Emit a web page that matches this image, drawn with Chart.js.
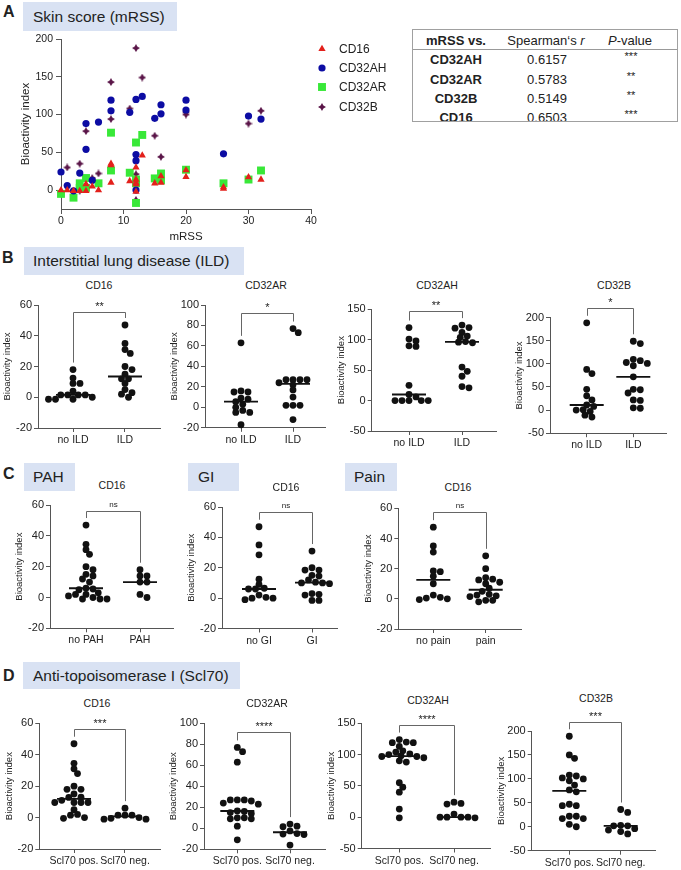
<!DOCTYPE html>
<html>
<head>
<meta charset="utf-8">
<script src="https://cdn.jsdelivr.net/npm/chart.js@4.4.1/dist/chart.umd.min.js"></script>
<style>
  body { margin: 0; background: #fff; font-family: "Liberation Sans", Arial, Helvetica, sans-serif; color: #222; }
  #fig { position: relative; width: 681px; height: 870px; overflow: hidden; }
  .hdr { position: absolute; background: #d9e2f3; font-size: 15.5px; display: flex; align-items: center; box-sizing: border-box; white-space: nowrap; }
  .letter { position: absolute; font-weight: bold; font-size: 16px; line-height: 16px; }
  .txt { position: absolute; transform: translate(-50%, -50%); white-space: nowrap; line-height: 1; color: #222; }
  #tbl { position: absolute; left: 412px; top: 29px; width: 266px; height: 93px; border: 1px solid #a0a0a0; box-sizing: border-box; overflow: hidden; }
</style>
</head>
<body>
<div id="fig">
  <div class="letter" style="left:3px;top:4px">A</div>
  <div class="hdr" style="left:23px;top:2px;width:154px;height:29px;padding-left:10px">Skin score (mRSS)</div>
  <div class="letter" style="left:2px;top:250px">B</div>
  <div class="hdr" style="left:24px;top:247px;width:220px;height:28px;padding-left:9px">Interstitial lung disease (ILD)</div>
  <div class="letter" style="left:3px;top:466px">C</div>
  <div class="hdr" style="left:24px;top:463px;width:51px;height:28px;padding-left:9px">PAH</div>
  <div class="hdr" style="left:188px;top:463px;width:51px;height:28px;padding-left:10px">GI</div>
  <div class="hdr" style="left:345px;top:463px;width:52px;height:28px;padding-left:9px">Pain</div>
  <div class="letter" style="left:3px;top:668px">D</div>
  <div class="hdr" style="left:23px;top:662px;width:217px;height:27px;padding-left:10px">Anti-topoisomerase I (Scl70)</div>
  <div id="tbl"></div>
</div>
<script>
Chart.defaults.font.family = '"Liberation Sans", Arial, Helvetica, sans-serif';
Chart.defaults.color = '#222';

// ---- panel A: mRSS vs bioactivity, [mRSS, index] ----
const mrssCD16 = [[0,0],[1,0],[2,-1],[3,-1],[4,-1],[4,8],[5,5],[6,0],[8,33],[8,35],[8,10],[11,12],[12,30],[12,14],[12,10],[12,8],[12,-2],[13,46],[15,9],[16,18.5],[16,10],[20,26.5],[20,17.5],[26,2],[26,4],[30,17],[32,14]];
const mrssCD32AH = [[0,24],[1,6],[2,-1],[3,22.5],[4,88],[4,54],[5,13],[6,90],[8,119],[8,105],[11,103],[12,120],[12,47],[12,39],[12,0],[13,124],[15,95],[16,113],[16,101],[20,119],[20,106],[26,48],[30,98],[32,94]];
const mrssCD32AR = [[0,-5],[2,-10],[3,9],[3,3],[4,16],[4,3],[6,9],[8,76],[8,26],[11,23],[12,63],[12,14],[12,9],[12,-17],[13,73],[15,15.5],[16,22],[16,13],[20,27],[26,9],[30,14],[32,26]];
const mrssCD32B = [[1,30],[3,35],[3,-1],[4,78],[5,16],[6,22],[8,143],[8,94],[11,108],[12,188],[12,21],[12,-13],[13,149],[15,72],[16,44],[20,100],[20,103],[30,88],[32,105]];
const mrssYTicks = [0, 50, 100, 150, 200];

// table
const corrRows = ['CD32AH', 'CD32AR', 'CD32B', 'CD16'];
const corrR = ['0.6157', '0.5783', '0.5149', '0.6503'];
const corrP = ['***', '**', '**', '***'];

// ---- group labels ----
const ildLabels = ['no ILD', 'ILD'];
const pahLabels = ['no PAH', 'PAH'];
const giLabels = ['no GI', 'GI'];
const painLabels = ['no pain', 'pain'];
const sclLabels = ['Scl70 pos.', 'Scl70 neg.'];

// ---- panel B: ILD ----
const ildCD16No = [18, 12.5, 9, 9, 4, 1.5, 1.5, 1.5, 1.5, 0, -1.3, -1.3, -1.3];
const ildCD16Yes = [47, 35, 31, 28.5, 20, 18, 15, 12, 12, 9, 5, 3, 2, 0];
const ildCD32ARNo = [63, 16, 15, 15, 9, 8, 5.5, 3, 0, -3, -5, -5, -17];
const ildCD32ARYes = [77, 73, 27, 27, 27, 27, 24, 22, 17, 10, 2, 2, 2, -12];
const ildCD32AHNo = [120, 101, 98, 90, 89, 25, 10, 6, 0, 0, 0, 0, 0];
const ildCD32AHYes = [124, 120, 119, 112, 106, 104, 97, 96, 95, 55, 48, 40, 23, 21];
const ildCD32BNo = [189, 88, 79, 45, 31, 22, 11, 8, 1, 0, -3, -11, -15];
const ildCD32BYes = [149, 144, 110, 107, 103, 101, 96, 72, 45, 44, 37, 22, 21, 5, 4];

// ---- panel C: CD16 by PAH / GI / pain ----
const pahNo = [47, 34.5, 31, 28, 20, 18, 15, 14, 12, 10, 6, 5.5, 5, 3, 2, 2, 1, 0, -1, -1, -1];
const pahYes = [18, 14, 14, 10, 10, 2, 0];
const giNo = [47, 35, 28.5, 12.5, 9, 6.5, 6, 6, 2, 0.5, 0, 0, -1];
const giYes = [31, 20, 18.5, 18.5, 15, 14.5, 12, 10.5, 10, 10, 9.5, 3, 2.5, 2, -1.5, -1.5];
const painNo = [47.5, 35, 31, 18.5, 18, 15, 10, 2.5, 1, 0.5, 0, -0.5];
const painYes = [28.5, 20, 14, 13, 12.5, 11, 10, 7, 5, 3, 2.5, 2, 1.5, -1, -1, -2];

// ---- panel D: Scl70 ----
const sclCD16Pos = [47, 34.5, 31, 28, 20, 18, 18, 15, 13, 12.8, 11, 9.6, 9.6, 9.6, 9.6, 5, 2, 1.5, 0, -0.5];
const sclCD16Neg = [6, 1.5, 1.5, 1.5, 0, -0.5, -1, -1];
const sclCD32ARPos = [77, 73, 63, 27, 27, 27, 26, 24, 23, 16.5, 16, 15, 14, 10, 10, 9, 9, 2, -11];
const sclCD32ARNeg = [4, 2, 1.5, -2.5, -5, -5.5, -6, -16];
const sclCD32AHPos = [124, 120, 119, 119, 113, 106, 104, 101, 100, 98, 97, 97, 95, 90, 88, 55, 48, 40, 13, -1];
const sclCD32AHNeg = [24, 22, 21, 5, 0, 0, 0, 0, -1];
const sclCD32BPos = [189, 150, 143, 108, 106, 102, 100, 96, 87, 77, 73, 47, 44, 44, 22, 22, 17, 17, 5, 0];
const sclCD32BNeg = [36, 30, 3, 2, 2, -4, -7, -10, -15];

const fig = document.getElementById('fig');

function text(str, x, y, css) {
  const d = document.createElement('div');
  d.className = 'txt';
  d.style.cssText = `left:${x}px;top:${y}px;${css || ''}`;
  d.innerHTML = str;
  fig.appendChild(d);
}

function makeCanvas(left, top, w, h) {
  const c = document.createElement('canvas');
  c.width = w; c.height = h;
  c.style.cssText = `position:absolute;left:${left}px;top:${top}px;width:${w}px;height:${h}px`;
  fig.appendChild(c);
  return c;
}

function median(vals) {
  const s = [...vals].sort((a, b) => a - b);
  const m = Math.floor(s.length / 2);
  return s.length % 2 ? s[m] : (s[m - 1] + s[m]) / 2;
}

// beeswarm: each point goes to the free slot nearest the group centre;
// neighbours need a full dot width sideways but may stack closer vertically
function swarm(vals, center, pxY, pxX) {
  const rx = 7, ry = 5, slotStep = 1.75;
  const placed = [];
  const slots = [0];
  for (let k = 1; k <= 30; k++) slots.push(k * slotStep, -k * slotStep);
  [...vals].sort((a, b) => b - a).forEach(v => {
    const py = v * pxY;
    const dx = slots.find(s => placed.every(p => ((p.dx - s) / rx) ** 2 + ((p.py - py) / ry) ** 2 >= 1));
    placed.push({ dx: dx === undefined ? 0 : dx, py, v });
  });
  return placed.map(p => ({ x: center + p.dx / pxX, y: p.v }));
}

function starMarker(color, size) {
  const c = document.createElement('canvas');
  c.width = c.height = size;
  const g = c.getContext('2d'), m = size / 2;
  g.fillStyle = color;
  g.beginPath();
  for (let k = 0; k < 8; k++) {
    const a = -Math.PI / 2 + k * Math.PI / 4, r = k % 2 ? m * 0.5 : m;
    g.lineTo(m + r * Math.cos(a), m + r * Math.sin(a));
  }
  g.closePath(); g.fill();
  return c;
}

// ---------- panel A scatter ----------
const seriesA = [
  { label: 'CD16', pts: mrssCD16, color: '#e3201b', style: 'triangle', r: 4.2 },
  { label: 'CD32AH', pts: mrssCD32AH, color: '#0c0ca3', style: 'circle', r: 3.6 },
  { label: 'CD32AR', pts: mrssCD32AR, color: '#38e838', style: 'rect', r: 5.6 },
  { label: 'CD32B', pts: mrssCD32B, color: '#5a1548', style: starMarker('#5a1548', 8), r: 4 }
];
const legendYs = [29, 48, 67, 87];

const legendA = {
  id: 'legendA',
  afterDraw(chart) {
    const ctx = chart.ctx;
    ctx.save();
    chart.data.datasets.forEach((ds, i) => {
      ctx.fillStyle = ds.backgroundColor;
      Chart.helpers.drawPoint(ctx, { pointStyle: ds.pointStyle, radius: ds.pointRadius, borderWidth: 0, rotation: 0 }, 322, legendYs[i]);
      ctx.fillStyle = '#222';
      ctx.font = '12px "Liberation Sans", Arial, sans-serif';
      ctx.textBaseline = 'middle';
      ctx.fillText(ds.label, 339, legendYs[i] + 0.5);
    });
    ctx.restore();
  }
};

new Chart(makeCanvas(0, 20, 400, 230), {
  type: 'scatter',
  data: {
    datasets: seriesA.map(s => ({
      label: s.label,
      data: s.pts.map(([x, y]) => ({ x, y })),
      pointStyle: s.style, pointRadius: s.r, backgroundColor: s.color, borderColor: s.color,
      borderWidth: 0, clip: false
    }))
  },
  options: {
    responsive: false, animation: false, events: [],
    layout: { padding: { left: 19, top: 19, right: 89, bottom: 6.5 } },
    plugins: { legend: { display: false }, tooltip: { enabled: false } },
    scales: {
      x: {
        type: 'linear', min: 0, max: 40,
        ticks: { stepSize: 10, font: { size: 10.5 }, padding: 1 },
        border: { color: '#555' },
        grid: { drawOnChartArea: false, tickLength: 5, color: '#555' },
        title: { display: true, text: 'mRSS', font: { size: 11.5 }, padding: 0 },
        afterFit: s => { s.height = 34.5; }
      },
      y: {
        min: -25, max: 200,
        afterBuildTicks: s => { s.ticks = mrssYTicks.map(v => ({ value: v })); },
        ticks: { font: { size: 10.5 }, padding: 3 },
        border: { color: '#555' },
        grid: { drawOnChartArea: false, tickLength: 5, color: '#555' },
        title: { display: true, text: 'Bioactivity index', font: { size: 11.5 }, padding: 0 },
        afterFit: s => { s.width = 42; }
      }
    }
  },
  plugins: [legendA]
});

// ---------- table ----------
const tbl = document.getElementById('tbl');
tbl.innerHTML = '<div style="position:absolute;left:0;right:0;top:19px;border-top:1px solid #999"></div>';
function cell(str, x, y, css) {
  const d = document.createElement('div');
  d.className = 'txt';
  d.style.cssText = `left:${x}px;top:${y}px;font-size:13px;${css || ''}`;
  d.innerHTML = str;
  tbl.appendChild(d);
}
const rowYs = [28.5, 49, 67.5, 86.5];
cell('mRSS vs.', 43, 10, 'font-weight:bold');
cell('Spearman‘s <i>r</i>', 133, 10);
cell('<i>P</i>-value', 217, 10);
corrRows.forEach((name, i) => {
  cell(name, 43, rowYs[i], 'font-weight:bold');
  cell(corrR[i], 134, rowYs[i]);
  cell(corrP[i], 218, rowYs[i] - 3, 'font-size:11px');
});

// ---------- dot plots B, C, D ----------
const dotExtras = {
  id: 'dotExtras',
  afterDatasetsDraw(chart, _args, o) {
    const { ctx, scales: { x, y } } = chart;
    ctx.save();
    ctx.strokeStyle = '#111';
    ctx.lineWidth = 1.8;
    o.groups.forEach((vals, i) => {
      const py = y.getPixelForValue(median(vals)), px = x.getPixelForValue(i + 1);
      ctx.beginPath(); ctx.moveTo(px - 17, py); ctx.lineTo(px + 17, py); ctx.stroke();
    });
    const by = Math.round(y.getPixelForValue(o.bracket)) + 0.5;
    const xl = Math.round(x.getPixelForValue(1)) + 0.5, xr = Math.round(x.getPixelForValue(2)) + 0.5;
    const ll = y.getPixelForValue(Math.max(...o.groups[0])) - 7;
    const lr = y.getPixelForValue(Math.max(...o.groups[1])) - 7;
    ctx.strokeStyle = '#666';
    ctx.lineWidth = 1;
    ctx.beginPath(); ctx.moveTo(xl, ll); ctx.lineTo(xl, by); ctx.lineTo(xr, by); ctx.lineTo(xr, lr); ctx.stroke();
    ctx.fillStyle = '#222';
    ctx.textAlign = 'center';
    ctx.textBaseline = 'bottom';
    const ns = o.sig === 'ns';
    ctx.font = (ns ? 8 : 11) + 'px "Liberation Sans", Arial, sans-serif';
    ctx.fillText(o.sig, (xl + xr) / 2, by - (ns ? 3 : 0));
    ctx.restore();
  }
};

// box: [y-axis x, first category x, second category x, x-axis end, y top, y bottom]
const dotPanels = [
  { title: 'CD16', at: [99, 285], box: [38, 73, 125, 160, 305, 428], y: [-20, 60, 20], labels: ildLabels, groups: [ildCD16No, ildCD16Yes], bracket: 55.5, sig: '**' },
  { title: 'CD32AR', at: [266, 285], box: [205, 241, 293, 325, 305, 427.8], y: [-20, 100, 20], labels: ildLabels, groups: [ildCD32ARNo, ildCD32ARYes], bracket: 91.9, sig: '*' },
  { title: 'CD32AH', at: [437, 285], box: [371.7, 409, 462, 496.7, 309.3, 431], y: [-50, 150, 50], labels: ildLabels, groups: [ildCD32AHNo, ildCD32AHYes], bracket: 147.8, sig: '**' },
  { title: 'CD32B', at: [614, 285], box: [550, 586.7, 633.3, 666.7, 317.7, 433.2], y: [-50, 200, 50], labels: ildLabels, groups: [ildCD32BNo, ildCD32BYes], bracket: 220, sig: '*' },
  { title: 'CD16', at: [112, 485], box: [50, 86, 140, 173, 505, 628.3], y: [-20, 60, 20], labels: pahLabels, groups: [pahNo, pahYes], bracket: 56.1, sig: 'ns' },
  { title: 'CD16', at: [286, 487], box: [222, 259, 312, 337, 507, 628.5], y: [-20, 60, 20], labels: giLabels, groups: [giNo, giYes], bracket: 56.5, sig: 'ns' },
  { title: 'CD16', at: [458, 487], box: [398.3, 433.3, 485.7, 521, 508.3, 629], y: [-20, 60, 20], labels: painLabels, groups: [painNo, painYes], bracket: 57.7, sig: 'ns' },
  { title: 'CD16', at: [97, 703], box: [39.3, 74, 125, 160, 723.3, 849], y: [-20, 60, 20], labels: sclLabels, groups: [sclCD16Pos, sclCD16Neg], bracket: 56.2, sig: '***' },
  { title: 'CD32AR', at: [267, 703], box: [204, 237.3, 290, 325, 723.3, 849.3], y: [-20, 100, 20], labels: sclLabels, groups: [sclCD32ARPos, sclCD32ARNeg], bracket: 91.4, sig: '****' },
  { title: 'CD32AH', at: [428, 700], box: [361.7, 399.3, 454, 490, 723.3, 848.5], y: [-50, 150, 50], labels: sclLabels, groups: [sclCD32AHPos, sclCD32AHNeg], bracket: 147.3, sig: '****' },
  { title: 'CD32B', at: [596, 698], box: [531.7, 569.3, 620.7, 655, 731, 850.7], y: [-50, 200, 50], labels: sclLabels, groups: [sclCD32BPos, sclCD32BNeg], bracket: 218, sig: '***' }
];

dotPanels.forEach(p => {
  const [ax, t1, t2, xe, yt, yb] = p.box;
  const [yMin, yMax, yStep] = p.y;
  const step = t2 - t1;
  const xMin = 1 - (t1 - ax) / step, xMax = 2 + (xe - t2) / step;
  const pxY = (yb - yt) / (yMax - yMin);

  const left = Math.floor(ax - 40), top = Math.floor(yt - 30);
  const w = Math.ceil(xe + 8 - left), h = Math.ceil(yb + 26 - top);

  text(p.title, p.at[0], p.at[1], 'font-size:10.5px');

  new Chart(makeCanvas(left, top, w, h), {
    type: 'scatter',
    data: {
      datasets: [{
        data: p.groups.flatMap((vals, g) => swarm(vals, g + 1, pxY, step)),
        pointRadius: 3.4, backgroundColor: '#111', borderWidth: 0, clip: false
      }]
    },
    options: {
      responsive: false, animation: false, events: [],
      layout: { padding: { left: ax - 36 - left, top: yt - top, right: w - (xe - left), bottom: h - (yb - top) - 26 } },
      plugins: { legend: { display: false }, tooltip: { enabled: false }, dotExtras: { groups: p.groups, bracket: p.bracket, sig: p.sig } },
      scales: {
        x: {
          type: 'linear', min: xMin, max: xMax,
          afterBuildTicks: s => { s.ticks = [{ value: 1 }, { value: 2 }]; },
          ticks: { callback: v => p.labels[v - 1], autoSkip: false, maxRotation: 0, minRotation: 0, font: { size: 10.5 }, padding: 2 },
          border: { color: '#555' },
          grid: { drawOnChartArea: false, tickLength: 4, color: '#555' },
          afterFit: s => { s.height = 26; }
        },
        y: {
          min: yMin, max: yMax,
          ticks: { stepSize: yStep, font: { size: 11 }, padding: 2 },
          border: { color: '#555' },
          grid: { drawOnChartArea: false, tickLength: 4, color: '#555' },
          title: { display: true, text: 'Bioactivity index', font: { size: 9.5 }, padding: 0 },
          afterFit: s => { s.width = 36; }
        }
      }
    },
    plugins: [dotExtras]
  });
});
</script>
</body>
</html>
